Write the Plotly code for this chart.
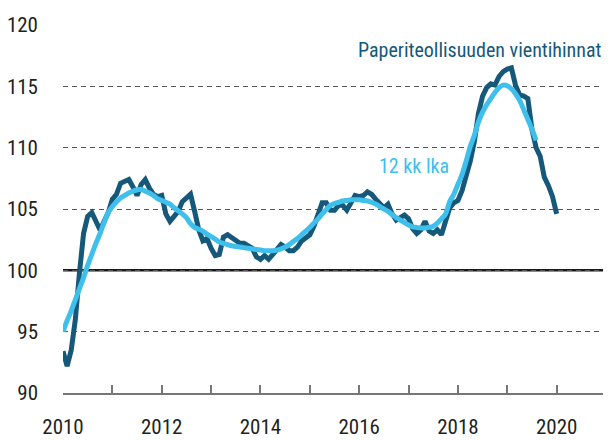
import plotly.graph_objects as go

# Monthly data, Jan 2010 .. Jan 2020
start_year = 2010
export_prices = [
    93.4, 92.2, 93.5, 96.0, 99.8, 103.0, 104.4, 104.7, 104.0, 103.3, 104.0, 104.7,   # 2010
    105.8, 106.2, 107.1, 107.2, 107.4, 106.8, 106.1, 107.0, 107.4, 106.7, 106.2, 106.0,  # 2011
    106.1, 104.6, 104.0, 104.4, 104.8, 105.6, 105.9, 106.2, 104.8, 103.3, 102.4, 102.6,  # 2012
    101.8, 101.2, 101.3, 102.7, 102.9, 102.7, 102.4, 102.2, 102.2, 102.0, 101.8, 101.1,  # 2013
    100.9, 101.2, 100.9, 101.3, 101.7, 102.1, 101.9, 101.6, 101.6, 101.9, 102.4, 102.7,  # 2014
    102.9, 103.6, 104.5, 105.5, 105.5, 104.9, 104.9, 105.3, 105.3, 104.9, 105.5, 106.1,  # 2015
    106.0, 106.1, 106.4, 106.2, 105.8, 105.4, 105.1, 105.4, 104.6, 104.1, 104.3, 104.5,  # 2016
    104.2, 103.4, 103.0, 103.3, 104.0, 103.2, 103.0, 103.3, 102.9, 104.2, 105.1, 105.5,  # 2017
    105.7, 106.5, 107.6, 108.9, 110.5, 112.8, 114.2, 114.9, 115.2, 115.1, 115.8, 116.2,  # 2018
    116.4, 116.5, 115.1, 114.3, 114.2, 114.0, 111.5, 110.0, 109.3, 107.6, 106.9, 106.0,  # 2019
    104.6,                                                                            # 2020
]

moving_avg_12 = [
    95.0, 95.9, 96.7, 97.6, 98.5, 99.4, 100.4, 101.3, 102.2, 103.0, 103.9, 104.7,
    105.2, 105.6, 105.9, 106.1, 106.3, 106.45, 106.55, 106.6, 106.45, 106.3, 106.1, 105.85,
    105.7, 105.55, 105.4, 105.1, 104.85, 104.6, 104.3, 103.8, 103.5, 103.35, 103.2, 102.95,
    102.75, 102.55, 102.3, 102.2, 102.1, 102.0, 101.95, 101.9, 101.85, 101.8, 101.75, 101.7,
    101.65, 101.6, 101.6, 101.6, 101.65, 101.75, 101.9, 102.1, 102.35, 102.6, 102.9, 103.2,
    103.5, 103.85, 104.2, 104.6, 104.95, 105.3, 105.45, 105.55, 105.65, 105.7, 105.75, 105.75,
    105.75, 105.7, 105.65, 105.55, 105.4, 105.2, 105.0, 104.8, 104.55, 104.3, 104.1, 103.9,
    103.7, 103.55, 103.5, 103.45, 103.45, 103.5, 103.6, 103.85, 104.2, 104.6, 105.6, 106.2,
    107.0, 107.8, 108.9, 110.1, 111.0, 112.1, 112.9, 113.5, 114.0, 114.5, 114.9, 115.1,
    115.05, 114.8, 114.4, 113.85, 113.1, 112.3, 111.5, 110.6,
]

tick_years = list(range(2010, 2022))
tick_labels = [str(y) if y % 2 == 0 and y <= 2020 else "" for y in tick_years]
y_ticks = [90, 95, 100, 105, 110, 115, 120]
y_labels = [str(v) for v in y_ticks]

x_dark = [start_year + i / 12 for i in range(len(export_prices))]
x_light = [start_year + i / 12 for i in range(len(moving_avg_12))]

DARK = "#15587a"
LIGHT = "#3ebfec"
FONT = "Roboto Condensed, Liberation Sans Narrow, Roboto, sans-serif"

fig = go.Figure()
fig.add_trace(go.Scatter(x=x_dark, y=export_prices, mode="lines",
                         line=dict(color=DARK, width=5), hoverinfo="skip"))
fig.add_trace(go.Scatter(x=x_light, y=moving_avg_12, mode="lines",
                         line=dict(color=LIGHT, width=5, shape="spline"), hoverinfo="skip"))

fig.add_shape(type="line", xref="paper", yref="y", x0=0, x1=1, y0=100, y1=100,
              line=dict(color="#1a1a1a", width=2.5), layer="below")

fig.add_annotation(text="Paperiteollisuuden vientihinnat", xref="paper", yref="y",
                   x=1, y=118, xanchor="right", yanchor="middle", xshift=-2,
                   showarrow=False, font=dict(family=FONT, size=20, color=DARK))
fig.add_annotation(text="12 kk lka", xref="x", yref="y",
                   x=2017.87, y=108.5, xanchor="right", yanchor="middle",
                   showarrow=False, font=dict(family=FONT, size=20, color=LIGHT))

# The page body has an 8px margin, so the figure is sized and offset to fit.
fig.update_layout(
    width=603, height=432,
    margin=dict(l=54.5, r=5, t=17, b=46.5),
    paper_bgcolor="white", plot_bgcolor="white",
    showlegend=False,
    font=dict(family=FONT, size=21, color="#231f20"),
    xaxis=dict(range=[2010, 2021], tickvals=tick_years, ticktext=tick_labels,
               ticks="inside", ticklen=8, tickwidth=1.5, tickcolor="#777",
               showline=True, linecolor="#777", linewidth=2,
               showgrid=False, zeroline=False, ticklabelstandoff=14,
               automargin=False, tickfont=dict(size=21)),
    yaxis=dict(range=[90, 120], tickvals=y_ticks, ticktext=y_labels,
               showgrid=True, gridcolor="#555", gridwidth=1.2, griddash="5px,4px",
               zeroline=False, showline=False, ticks="", ticklabelstandoff=24,
               automargin=False, tickfont=dict(size=21)),
)

fig.write_html("out.html")
